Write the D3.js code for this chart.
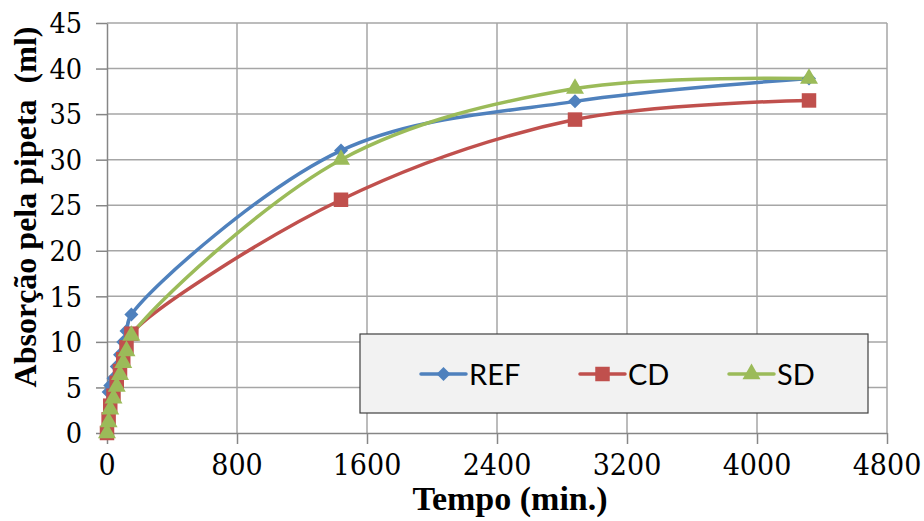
<!DOCTYPE html>
<html>
<head>
<meta charset="utf-8">
<script src="https://d3js.org/d3.v7.min.js"></script>
<style>
  html, body { margin: 0; padding: 0; background: #ffffff; }
  svg { display: block; }
</style>
</head>
<body>
<svg id="chart" width="924" height="521"></svg>
<script>
// ---- data ----
const times = [0, 10, 20, 40, 60, 80, 100, 120, 150, 1440, 2880, 4320];
const refValues = [0, 4.5, 5.2, 6.0, 7.3, 8.6, 10.0, 11.2, 13.0, 31.0, 36.4, 38.9];
const cdValues  = [0, 1.5, 3.0, 4.1, 5.5, 6.8, 8.1, 9.4, 10.9, 25.6, 34.4, 36.5];
const sdValues  = [0, 1.2, 2.6, 3.8, 5.1, 6.4, 7.7, 9.0, 10.7, 30.0, 37.8, 38.9];
const seriesNames = ["REF", "CD", "SD"];
const xTicks = [0, 800, 1600, 2400, 3200, 4000, 4800];
const yTicks = [0, 5, 10, 15, 20, 25, 30, 35, 40, 45];
const xTitle = "Tempo (min.)";
const yTitle = "Absorção pela pipeta  (ml)";

(function () {
const SERIF = "'Liberation Serif', 'Times New Roman', serif";
const TICKFONT = "'DejaVu Serif', serif";
const diamond = { draw(ctx, size) { const r = Math.sqrt(size / 2); ctx.moveTo(0, -r); ctx.lineTo(r, 0); ctx.lineTo(0, r); ctx.lineTo(-r, 0); ctx.closePath(); } };
const series = [
  { name: seriesNames[0], values: refValues, color: "#4F81BD", shape: diamond, size: 98 },
  { name: seriesNames[1], values: cdValues,  color: "#C0504D", shape: d3.symbolSquare,  size: 210 },
  { name: seriesNames[2], values: sdValues,  color: "#9BBB59", shape: d3.symbolTriangle, size: 140 }
];

const svg = d3.select("#chart");
svg.append("rect").attr("width", 924).attr("height", 521).attr("fill", "#ffffff");

const pL = 107, pR = 887, pT = 23, pB = 433;
const x = d3.scaleLinear().domain([0, 4800]).range([pL, pR]);
const y = d3.scaleLinear().domain([0, 45]).range([pB, pT]);

// gridlines
const grid = svg.append("g");
grid.selectAll(".hg").data(yTicks.filter(d => d > 0)).join("line")
  .attr("x1", pL).attr("x2", pR)
  .attr("y1", d => y(d)).attr("y2", d => y(d))
  .attr("stroke", "#a6a6a6").attr("stroke-width", 1.5);
grid.selectAll(".vg").data(xTicks.filter(d => d > 0)).join("line")
  .attr("x1", d => x(d)).attr("x2", d => x(d))
  .attr("y1", pT).attr("y2", pB)
  .attr("stroke", "#a6a6a6").attr("stroke-width", 1.5);

// axes (tick marks from d3 axes; labels drawn as plain text from the same scales)
const xAxis = svg.append("g").attr("transform", `translate(0,${pB})`)
  .call(d3.axisBottom(x).tickValues(xTicks).tickFormat("").tickSizeInner(11).tickSizeOuter(0));
const yAxis = svg.append("g").attr("transform", `translate(${pL},0)`)
  .call(d3.axisLeft(y).tickValues(yTicks).tickFormat("").tickSizeInner(11).tickSizeOuter(0));
[xAxis, yAxis].forEach(g => {
  g.select(".domain").attr("stroke", "#868686").attr("stroke-width", 1.5);
  g.selectAll(".tick line").attr("stroke", "#868686").attr("stroke-width", 1.5);
  g.selectAll(".tick text").remove();
});
svg.append("g").selectAll("text").data(xTicks).join("text")
  .attr("x", d => x(d)).attr("y", 475)
  .attr("text-anchor", "middle")
  .attr("font-family", TICKFONT).attr("font-stretch", "condensed").style("font-stretch", "condensed")
  .attr("font-size", 30).attr("fill", "#000")
  .text(d => String(d));
svg.append("g").selectAll("text").data(yTicks).join("text")
  .attr("x", 82).attr("y", d => y(d)).attr("dy", "0.36em")
  .attr("text-anchor", "end")
  .attr("font-family", TICKFONT).attr("font-stretch", "condensed").style("font-stretch", "condensed")
  .attr("font-size", 28.5).attr("fill", "#000")
  .text(d => String(d));

// lines
const line = d3.line().x(d => x(d[0])).y(d => y(d[1])).curve(d3.curveCatmullRom.alpha(0.5));
series.forEach(s => {
  const pts = times.map((t, i) => [t, s.values[i]]);
  svg.append("path").datum(pts).attr("d", line)
    .attr("fill", "none").attr("stroke", s.color).attr("stroke-width", 3.5)
    .attr("stroke-linejoin", "round").attr("stroke-linecap", "round");
});
series.forEach(s => {
  const pts = times.map((t, i) => [t, s.values[i]]);
  svg.append("g").selectAll("path").data(pts).join("path")
    .attr("transform", d => `translate(${x(d[0])},${y(d[1])})`)
    .attr("d", d3.symbol().type(s.shape).size(s.size))
    .attr("fill", s.color);
});

// axis titles
svg.append("text").attr("x", 510).attr("y", 510).attr("text-anchor", "middle")
  .attr("font-family", SERIF).attr("font-weight", "bold").attr("font-size", 34)
  .text(xTitle);
svg.append("text").attr("transform", "translate(36,207) rotate(-90)").attr("text-anchor", "middle")
  .attr("font-family", SERIF).attr("font-weight", "bold").attr("font-size", 32)
  .style("white-space", "pre")
  .text(yTitle);

// legend
const lg = svg.append("g");
lg.append("rect").attr("x", 360).attr("y", 334).attr("width", 508).attr("height", 79)
  .attr("fill", "#f2f2f2").attr("stroke", "#404040").attr("stroke-width", 1.2);
const legendX = [421, 580, 729];
series.forEach((s, i) => {
  const lx = legendX[i], ly = 374;
  lg.append("line").attr("x1", lx).attr("x2", lx + 45).attr("y1", ly).attr("y2", ly)
    .attr("stroke", s.color).attr("stroke-width", 3.5).attr("stroke-linecap", "round");
  lg.append("path").attr("transform", `translate(${lx + 22.5},${ly})`)
    .attr("d", d3.symbol().type(s.shape).size(s.size)).attr("fill", s.color);
  lg.append("text").attr("x", lx + 48).attr("y", ly + 11)
    .attr("font-family", "Lato, sans-serif").attr("font-size", 29).attr("fill", "#000")
    .text(s.name);
});
})();
</script>
</body>
</html>
